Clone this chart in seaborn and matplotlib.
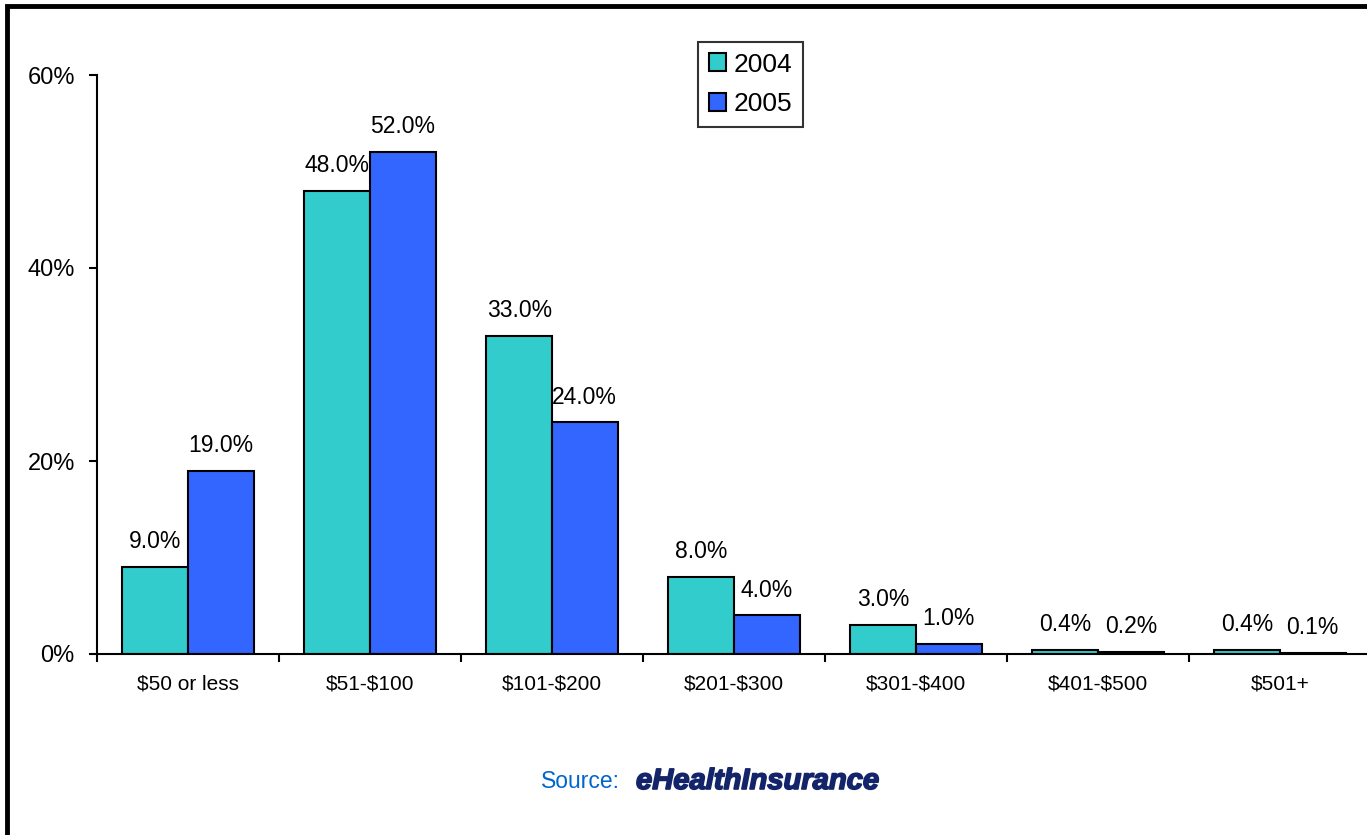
import numpy as np
import pandas as pd
import seaborn as sns
import matplotlib.pyplot as plt
import matplotlib.patheffects as pe
from matplotlib.patches import Rectangle
from matplotlib.ticker import PercentFormatter

categories = ['$50 or less', '$51-$100', '$101-$200', '$201-$300',
              '$301-$400', '$401-$500', '$501+']
years = ['2004', '2005']
vals_2004 = [9.0, 48.0, 33.0, 8.0, 3.0, 0.4, 0.4]
vals_2005 = [19.0, 52.0, 24.0, 4.0, 1.0, 0.2, 0.1]
yticks = [0, 20, 40, 60]

df = pd.DataFrame({
    'cat': categories * 2,
    'year': [years[0]] * len(categories) + [years[1]] * len(categories),
    'val': vals_2004 + vals_2005,
})

sns.set_style('white')
plt.rcParams['font.family'] = ['Liberation Sans', 'DejaVu Sans']
plt.rcParams['text.parse_math'] = False
plt.rcParams['text.color'] = 'black'
plt.rcParams['xtick.color'] = 'black'
plt.rcParams['ytick.color'] = 'black'
plt.rcParams['xtick.labelcolor'] = 'black'
plt.rcParams['ytick.labelcolor'] = 'black'

fig = plt.figure(figsize=(13.67, 8.35), dpi=100)
ax = fig.add_axes([97 / 1367, 1 - 654 / 835, (1371 - 97) / 1367, (654 - 75) / 835])

sns.barplot(data=df, x='cat', y='val', hue='year', hue_order=years,
            palette=['#33CCCC', '#3366FF'], saturation=1, edgecolor='black',
            linewidth=1.5, width=0.72, gap=0, ax=ax, legend=True)

for cont, vals in zip(ax.containers, [vals_2004, vals_2005]):
    ax.bar_label(cont, labels=['{:.1f}%'.format(v) for v in vals],
                 padding=10, fontsize=16.5, color='black')

ax.set_xlim(-0.5, len(categories) - 0.5)
ax.set_ylim(0, 60)
ax.set_yticks(yticks)
ax.yaxis.set_major_formatter(PercentFormatter(decimals=0))
ax.set_xlabel('')
ax.set_ylabel('')
ax.set_xticks(np.arange(-0.5, len(categories)), minor=True)
ax.tick_params(axis='x', which='major', length=0, pad=15, labelsize=15)
ax.tick_params(axis='x', which='minor', length=6, width=1.5, color='black',
               direction='out', bottom=True)
ax.tick_params(axis='y', length=6, width=1.5, color='black', direction='out',
               left=True, pad=10, labelsize=17)
for side in ['top', 'right']:
    ax.spines[side].set_visible(False)
for side in ['left', 'bottom']:
    ax.spines[side].set_color('black')
    ax.spines[side].set_linewidth(1.5)

leg = ax.legend(loc='upper left', bbox_to_anchor=(698 / 1367, 1 - 42 / 835),
                bbox_transform=fig.transFigure, fontsize=19, frameon=True,
                fancybox=False, edgecolor='black', handlelength=0.65,
                handleheight=0.65, handletextpad=0.3, borderpad=0.4,
                labelspacing=0.6, borderaxespad=0)
leg.get_frame().set_linewidth(1.5)
for t in leg.get_texts():
    t.set_color('black')

fig.text(620 / 1367, 1 - 781 / 835, 'Source:', color='#0066CC', fontsize=16.5,
         ha='right', va='center')
fig.text(636 / 1367, 1 - 781 / 835, 'eHealthInsurance', color='#14246B',
         fontsize=21, fontweight='heavy', style='italic', ha='left', va='center',
         path_effects=[pe.withStroke(linewidth=1.2, foreground='#14246B')])

fig.patches.append(Rectangle((7 / 1367, -0.1), 1.2, 1.1 - 6 / 835,
                             transform=fig.transFigure, fill=False,
                             edgecolor='black', linewidth=3.5))

fig.savefig('out.png', dpi=100)
